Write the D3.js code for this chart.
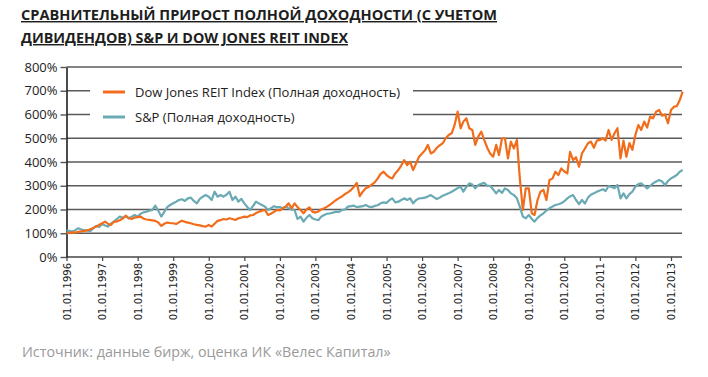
<!DOCTYPE html>
<html>
<head>
<meta charset="utf-8">
<script src="https://cdn.jsdelivr.net/npm/d3@7"></script>
<style>
  body { margin: 0; background: #fff; }
  #chart { width: 708px; height: 377px; }
</style>
</head>
<body>
<div id="chart"></div>
<script>
const titleLines = ["СРАВНИТЕЛЬНЫЙ ПРИРОСТ ПОЛНОЙ ДОХОДНОСТИ (С УЧЕТОМ", "ДИВИДЕНДОВ) S&P И DOW JONES REIT INDEX"]
const sourceText = "Источник:  данные бирж, оценка ИК «Велес Капитал»"
const seriesNames = ["Dow Jones REIT Index (Полная доходность)", "S&P (Полная доходность)"]
const yTicks = [0, 100, 200, 300, 400, 500, 600, 700, 800]
const tickYears = d3.range(1996, 2014)
const firstMonth = new Date(1996, 0, 1)

// monthly values, Jan 1996 .. May 2013, % of start
const reitValues = [
  100, 102, 104, 103, 106, 108, 110, 112, 117, 122, 128, 135,
  142, 149, 140, 135, 148, 150, 155, 162, 174, 163, 160, 166,
  168, 170, 162, 158, 156, 154, 152, 145, 131, 140, 145, 143,
  142, 139, 146, 153, 148, 145, 142, 138, 135, 133, 130, 128,
  135, 128, 140, 152, 155, 160, 158, 163, 160, 156, 163, 166,
  170, 168, 175, 177, 185, 191, 195, 198, 177, 182, 190, 198,
  196, 205, 212, 226, 205, 226, 210, 198, 184, 200, 209, 191,
  187, 192, 200, 205, 212, 220, 230, 240, 248, 255, 265, 272,
  282, 295, 312, 256, 275, 289, 295, 305, 314, 330, 350, 359,
  345, 335, 331, 352, 366, 385, 408, 387, 401, 366, 395, 422,
  436, 450, 472, 436, 443, 460, 470, 479, 500, 514, 521, 556,
  612, 542, 570, 584, 542, 535, 472, 507, 528, 493, 460, 436,
  422, 472, 429, 500, 500, 415, 486, 457, 493, 331, 198, 289,
  289, 184, 177, 240, 275, 282, 240, 324, 330, 359, 345, 373,
  360, 352, 443, 408, 420, 380, 436, 457, 479, 486, 460, 490,
  493, 500, 490, 535, 493, 521, 542, 415, 490, 422, 480, 451,
  514, 556, 535, 570, 545, 591, 584, 612, 619, 595, 600, 563,
  619, 633, 635, 661, 696
]

const spValues = [
  112, 110, 107, 113, 121, 116, 113, 112, 109, 120, 131, 126,
  139, 133, 128, 140, 149, 160, 170, 165, 172, 163, 170, 177,
  170, 182, 188, 191, 195, 198, 216, 195, 170, 190, 210, 219,
  226, 233, 240, 243, 236, 247, 250, 236, 226, 245, 254, 261,
  254, 240, 275, 254, 261, 254, 262, 275, 240, 254, 233, 245,
  226, 210, 198, 215, 233, 225, 219, 212, 198, 205, 214, 210,
  210, 205, 212, 205, 200, 198, 160, 170, 149, 165, 177, 163,
  158, 155, 170, 177, 182, 184, 187, 191, 190, 198, 200, 212,
  214, 216, 210, 212, 214, 219, 212, 210, 215, 218, 226, 230,
  228, 240, 247, 230, 233, 240, 247, 240, 247, 226, 240, 247,
  248, 250, 255, 261, 252, 244, 250, 258, 263, 268, 275, 282,
  290, 296, 275, 295, 310, 305, 289, 303, 308, 312, 300, 300,
  285, 268, 282, 270, 289, 282, 268, 261, 247, 212, 170, 163,
  177, 160, 149, 165, 175, 184, 195, 205, 212, 219, 222, 226,
  235, 247, 255, 261, 240, 223, 240, 225, 250, 262, 268, 275,
  280, 285, 278, 299, 295, 290, 303, 247, 268, 247, 265, 275,
  296, 307, 310, 300, 289, 300, 310, 318, 324, 318, 303, 320,
  331, 338, 345, 359, 366
]

const colors = ["#f26d1b", "#6aaab4"]

const width = 708
const height = 377
const plot = {left: 66.5, right: 682, top: 67, bottom: 257}

const svg = d3.select("#chart").append("svg")
    .attr("width", width)
    .attr("height", height)

const font = "'Open Sans', sans-serif"

// title
svg.append("g").selectAll("text")
    .data(titleLines)
    .join("text")
    .attr("x", 21)
    .attr("y", (d, i) => 20 + i * 23)
    .attr("font-family", font)
    .attr("font-weight", "bold")
    .attr("font-size", 14.5)
    .attr("fill", "#1e1e1e")
    .attr("text-decoration", "underline")
    .attr("textLength", (d, i) => i === 0 ? 476 : 327)
    .attr("lengthAdjust", "spacingAndGlyphs")
    .text(d => d)

const xScale = d3.scaleTime()
    .domain([new Date(1996, 0, 1), new Date(2013, 0, 1)])
    .range([plot.left, 671])

const yScale = d3.scaleLinear()
    .domain([0, 800])
    .range([plot.bottom, plot.top])

// grid lines
svg.append("g").selectAll("line")
    .data(yTicks.filter(v => v > 0))
    .join("line")
    .attr("x1", plot.left)
    .attr("x2", plot.right)
    .attr("y1", d => yScale(d))
    .attr("y2", d => yScale(d))
    .attr("stroke", "#5a5a5a")
    .attr("stroke-width", 1.4)

// x axis
const xAxis = d3.axisBottom(xScale)
    .tickValues(tickYears.map(y => new Date(y, 0, 1)))
    .tickFormat(d3.timeFormat("01.01.%Y"))
    .tickSize(4)
    .tickSizeOuter(0)

const xAxisG = svg.append("g")
    .attr("transform", `translate(0, ${plot.bottom})`)
    .call(xAxis)

xAxisG.select(".domain").remove()
xAxisG.selectAll(".tick line").attr("stroke", "#444").attr("stroke-width", 1.2)
xAxisG.selectAll(".tick text")
    .attr("font-family", "'DejaVu Sans', sans-serif")
    .attr("font-size", 10)
    .attr("fill", "#222")
    .attr("text-anchor", "end")
    .attr("transform", "rotate(-90)")
    .attr("x", -6)
    .attr("y", 0)
    .attr("dy", "0.35em")

svg.append("line")
    .attr("x1", plot.left)
    .attr("x2", plot.right)
    .attr("y1", plot.bottom)
    .attr("y2", plot.bottom)
    .attr("stroke", "#444")
    .attr("stroke-width", 1.4)

// y axis
const yAxis = d3.axisLeft(yScale)
    .tickValues(yTicks)
    .tickFormat(d => d + "%")
    .tickSize(6)
    .tickSizeOuter(0)

const yAxisG = svg.append("g")
    .attr("transform", `translate(${plot.left}, 0)`)
    .call(yAxis)

yAxisG.select(".domain").attr("stroke", "#111").attr("stroke-width", 1.5)
yAxisG.selectAll(".tick line").attr("stroke", "#555").attr("stroke-width", 1.4)
yAxisG.selectAll(".tick text")
    .attr("font-family", font)
    .attr("font-size", 13)
    .attr("fill", "#222")
    .attr("x", -9)

// lines
const months = reitValues.map((v, i) => d3.timeMonth.offset(firstMonth, i))
const line = d3.line()
    .x((d, i) => xScale(months[i]))
    .y(d => yScale(d))

svg.append("g").selectAll("path")
    .data([spValues, reitValues])
    .join("path")
    .attr("d", d => line(d))
    .attr("fill", "none")
    .attr("stroke", (d, i) => i === 0 ? colors[1] : colors[0])
    .attr("stroke-width", 2.2)
    .attr("stroke-linejoin", "round")

// legend
const legend = svg.append("g")
legend.append("rect")
    .attr("x", 90)
    .attr("y", 79)
    .attr("width", 323)
    .attr("height", 48)
    .attr("fill", "#fff")

const legendItems = legend.selectAll("g")
    .data(seriesNames)
    .join("g")
    .attr("transform", (d, i) => `translate(103, ${92 + i * 25})`)

legendItems.append("line")
    .attr("x1", 0)
    .attr("x2", 22)
    .attr("stroke", (d, i) => colors[i])
    .attr("stroke-width", 3)

legendItems.append("text")
    .attr("x", 32)
    .attr("dy", "0.35em")
    .attr("font-family", font)
    .attr("font-size", 13)
    .attr("fill", "#222")
    .text(d => d)

// source
svg.append("text")
    .attr("x", 22)
    .attr("y", 357)
    .attr("font-family", font)
    .attr("font-size", 14.3)
    .attr("fill", "#9a9a9a")
    .text(sourceText)
</script>
</body>
</html>
